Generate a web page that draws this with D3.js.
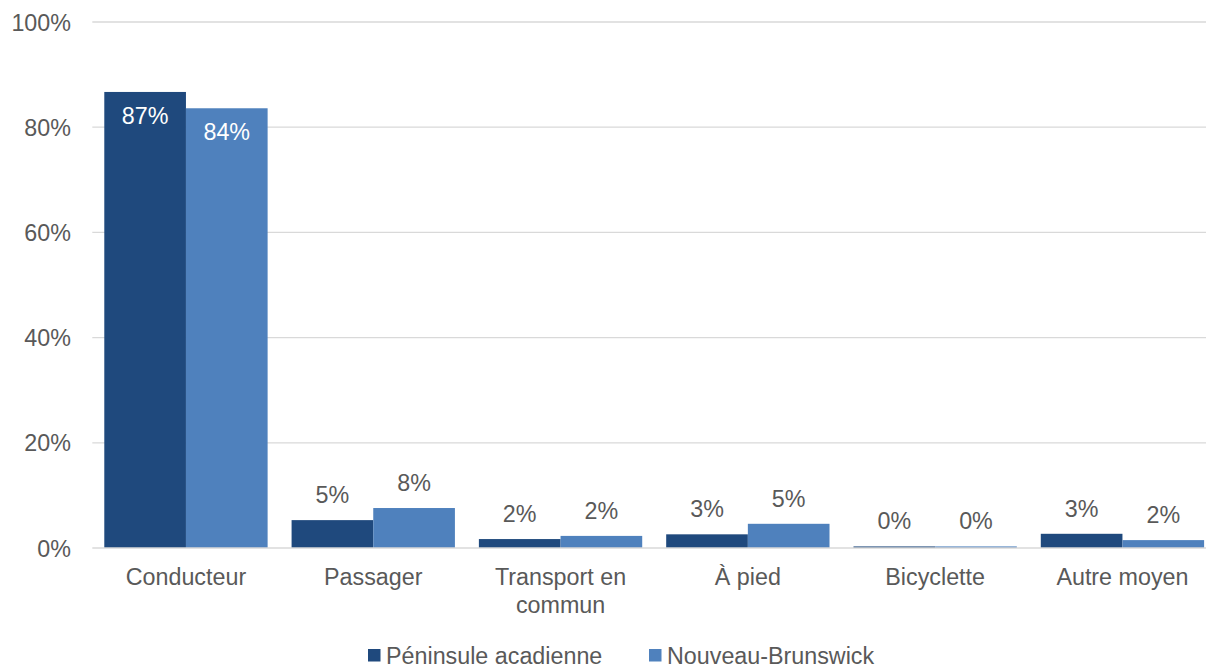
<!DOCTYPE html>
<html>
<head>
<meta charset="utf-8">
<script src="https://cdn.jsdelivr.net/npm/d3@7"></script>
<style>
  html, body { margin: 0; padding: 0; background: #fff; }
  svg { display: block; font-family: "Liberation Sans", Arial, sans-serif; }
</style>
</head>
<body>
<svg id="chart" width="1206" height="665"></svg>
<script>
// Mode de transport pour se rendre au travail (%)
const categories = ["Conducteur", "Passager", "Transport en commun", "À pied", "Bicyclette", "Autre moyen"];
const seriesNames = ["Péninsule acadienne", "Nouveau-Brunswick"];
const peninsule = [86.7, 5.3, 1.7, 2.6, 0.3, 2.7];
const nouveauBrunswick = [83.6, 7.6, 2.3, 4.6, 0.3, 1.5];
const yTicks = [0, 20, 40, 60, 80, 100];

const colors = ["#1F497D", "#4F81BD"];
const textColor = "#595959";
const fontSize = 23.3;

const svg = d3.select("#chart");
const plotLeft = 92.3, step = 187.3;
const plotRight = plotLeft + step * categories.length;
const plotTop = 22, plotBottom = 548;

const x = d3.scaleBand()
  .domain(categories)
  .range([plotLeft, plotRight])
  .paddingInner(0.128)
  .paddingOuter(0.064);

const xSub = d3.scaleBand()
  .domain(seriesNames)
  .range([0, x.bandwidth()]);

const y = d3.scaleLinear().domain([0, 100]).range([plotBottom, plotTop]);

// Gridlines
svg.append("g")
  .selectAll("line")
  .data(yTicks.filter(t => t > 0))
  .join("line")
  .attr("x1", plotLeft).attr("x2", 1206)
  .attr("y1", d => y(d)).attr("y2", d => y(d))
  .attr("stroke", "#D9D9D9").attr("stroke-width", 1.3);

// Y tick labels
svg.append("g")
  .selectAll("text")
  .data(yTicks)
  .join("text")
  .attr("x", 71)
  .attr("y", d => y(d) + 8.5)
  .attr("text-anchor", "end")
  .attr("fill", textColor)
  .style("font-size", fontSize + "px")
  .text(d => d + "%");

const rows = categories.map((c, i) => ({
  cat: c,
  vals: [
    { s: seriesNames[0], v: peninsule[i], c: colors[0] },
    { s: seriesNames[1], v: nouveauBrunswick[i], c: colors[1] }
  ]
}));

const groups = svg.append("g")
  .selectAll("g")
  .data(rows)
  .join("g")
  .attr("transform", d => `translate(${x(d.cat)},0)`);

groups.selectAll("rect")
  .data(d => d.vals)
  .join("rect")
  .attr("x", d => xSub(d.s))
  .attr("width", xSub.bandwidth())
  .attr("y", d => y(d.v))
  .attr("height", d => plotBottom - y(d.v))
  .attr("fill", d => d.c);

// Value labels: inside the bar for tall bars, above otherwise
groups.selectAll("text")
  .data(d => d.vals)
  .join("text")
  .attr("x", d => xSub(d.s) + xSub.bandwidth() / 2)
  .attr("y", d => d.v > 50 ? y(d.v) + 32 : y(d.v) - 17)
  .attr("text-anchor", "middle")
  .attr("fill", d => d.v > 50 ? "#FFFFFF" : textColor)
  .style("font-size", fontSize + "px")
  .text(d => Math.round(d.v) + "%");

// Baseline
svg.append("line")
  .attr("x1", plotLeft).attr("x2", 1206)
  .attr("y1", plotBottom).attr("y2", plotBottom)
  .attr("stroke", "#D9D9D9").attr("stroke-width", 1.5);

// Category labels (wrapped)
const wrapped = {
  "Transport en commun": ["Transport en", "commun"]
};
const catLabels = svg.append("g")
  .selectAll("text")
  .data(categories)
  .join("text")
  .attr("x", d => x(d) + x.bandwidth() / 2)
  .attr("y", 585)
  .attr("text-anchor", "middle")
  .attr("fill", textColor)
  .style("font-size", fontSize + "px");
catLabels.each(function(d) {
  const lines = wrapped[d] || [d];
  const t = d3.select(this);
  lines.forEach((ln, i) => {
    t.append("tspan")
      .attr("x", x(d) + x.bandwidth() / 2)
      .attr("dy", i === 0 ? 0 : 28.3)
      .text(ln);
  });
});

// Legend
const legendItems = [
  { name: seriesNames[0], c: colors[0], x: 368 },
  { name: seriesNames[1], c: colors[1], x: 649 }
];
const lg = svg.append("g")
  .selectAll("g")
  .data(legendItems)
  .join("g")
  .attr("transform", d => `translate(${d.x},0)`);
lg.append("rect")
  .attr("x", 0).attr("y", 649)
  .attr("width", 12.5).attr("height", 12.5)
  .attr("fill", d => d.c);
lg.append("text")
  .attr("x", 18).attr("y", 663.5)
  .attr("fill", textColor)
  .style("font-size", fontSize + "px")
  .text(d => d.name);
</script>
</body>
</html>
